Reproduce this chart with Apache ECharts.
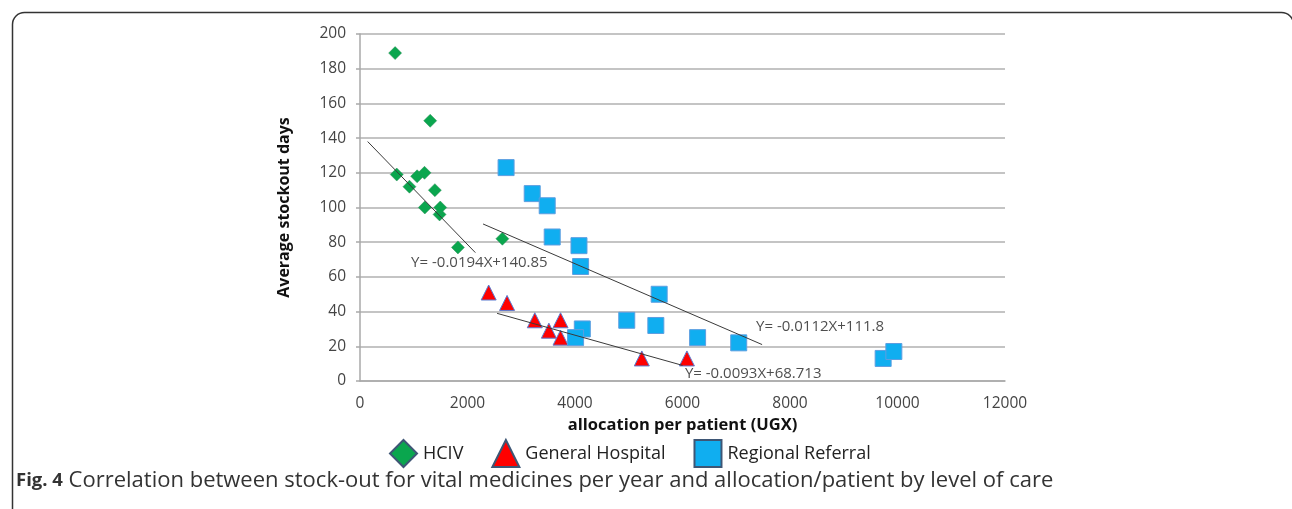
<!DOCTYPE html>
<html>
<head>
<meta charset="utf-8">
<title>Stock-out vs allocation per patient</title>
<script src="https://cdn.jsdelivr.net/npm/echarts@6.0.0/dist/echarts.min.js"></script>
<style>
  html, body { margin: 0; padding: 0; background: #fff; }
  #chart { width: 1292px; height: 509px; }
</style>
</head>
<body>
<div id="chart"></div>
<script>
// points: [allocation per patient (UGX), average stockout days]
const hcivPoints = [
  [653, 189], [684, 119], [920, 112], [1063, 118], [1200, 120], [1306, 150],
  [1206, 100], [1393, 110], [1480, 96], [1493, 100], [1822, 77], [2649, 82]
];
const generalHospitalPoints = [
  [2394, 51], [2736, 45], [3252, 35], [3731, 35], [3514, 29], [3731, 25],
  [5243, 13], [6082, 13]
];
const regionalReferralPoints = [
  [2718, 123], [3204, 108], [3483, 101], [3576, 83], [4074, 78], [4104, 66],
  [5566, 50], [4963, 35], [5504, 32], [4136, 30], [4011, 25], [6281, 25],
  [7046, 22], [9733, 13], [9932, 17]
];

// trend lines as drawn (start and end)
const hcivTrend = [[143, 138], [2146, 74]];
const generalHospitalTrend = [[2550, 39], [6001, 9]];
const regionalReferralTrend = [[2289, 90.5], [7481, 21]];

// trend equation labels and where they sit
const trendLabels = ["Y= -0.0194X+140.85", "Y= -0.0112X+111.8", "Y= -0.0093X+68.713"];
const trendLabelAnchors = [[951, 68], [7369, 31], [6045, 4]];

const seriesNames = ["HCIV", "General Hospital", "Regional Referral"];
const xTicks = { min: 0, max: 12000, step: 2000 };
const yTicks = { min: 0, max: 200, step: 20 };

const FONT = "'Open Sans', 'Liberation Sans', sans-serif";

let myChart = echarts.init(document.getElementById("chart"));

function trendSeries(data) {
  return {
    type: "line",
    data: data,
    symbol: "none",
    silent: true,
    z: 5,
    lineStyle: { color: "#3a3a3a", width: 1 },
  };
}

let options = {
  animation: false,
  backgroundColor: "#fff",
  grid: { left: 360, right: 287, top: 34, bottom: 128 },
  xAxis: {
    type: "value",
    min: xTicks.min,
    max: xTicks.max,
    interval: xTicks.step,
    name: "allocation per patient (UGX)",
    nameLocation: "middle",
    nameGap: 30,
    nameTextStyle: { fontFamily: FONT, fontWeight: "bold", fontSize: 16.5, color: "#111" },
    axisLine: { show: true, lineStyle: { color: "#a9a9a9", width: 1.5 } },
    axisTick: { show: false },
    axisLabel: {
      fontFamily: FONT, fontSize: 15.5, color: "#444", margin: 15,
      formatter: (v) => String(v),
    },
    splitLine: { show: false },
  },
  yAxis: {
    type: "value",
    min: yTicks.min,
    max: yTicks.max,
    interval: yTicks.step,
    name: "Average stockout days",
    nameLocation: "middle",
    nameGap: 68,
    nameTextStyle: { fontFamily: FONT, fontWeight: "bold", fontSize: 16, color: "#111" },
    axisLine: { show: true, lineStyle: { color: "#a9a9a9", width: 1.5 } },
    axisTick: { show: true, length: 4, lineStyle: { color: "#a9a9a9", width: 1.5 } },
    axisLabel: { fontFamily: FONT, fontSize: 15.5, color: "#444", margin: 14 },
    splitLine: { show: true, lineStyle: { color: "#b0b0b0", width: 1.5 } },
  },
  legend: {
    left: 384,
    top: 434,
    itemWidth: 27,
    itemHeight: 27,
    itemGap: 28,
    textStyle: { fontFamily: FONT, fontSize: 18, color: "#222", padding: [0, 0, 0, 1] },
    data: [
      { name: seriesNames[0], icon: "diamond",
        itemStyle: { color: "#0aa64e", borderColor: "#3e5675", borderWidth: 2 } },
      { name: seriesNames[1], icon: "triangle",
        itemStyle: { color: "#ff0000", borderColor: "#3e5675", borderWidth: 2 } },
      { name: seriesNames[2], icon: "rect",
        itemStyle: { color: "#10aef0", borderColor: "#3e5675", borderWidth: 2 } },
    ],
  },
  series: [
    {
      name: seriesNames[0],
      type: "scatter",
      symbol: "diamond",
      symbolSize: 13,
      data: hcivPoints,
      itemStyle: { color: "#0aa64e", borderColor: "#2f8e5a", borderWidth: 0.5, opacity: 1 },
    },
    {
      name: seriesNames[1],
      type: "scatter",
      symbol: "triangle",
      symbolSize: [15, 15],
      data: generalHospitalPoints,
      itemStyle: { color: "#ff0000", borderColor: "#5b7bd0", borderWidth: 1, opacity: 1 },
    },
    {
      name: seriesNames[2],
      type: "scatter",
      symbol: "rect",
      symbolSize: 16,
      data: regionalReferralPoints,
      itemStyle: { color: "#10aef0", borderColor: "#5d9ee0", borderWidth: 1, opacity: 1 },
    },
    trendSeries(hcivTrend),
    trendSeries(generalHospitalTrend),
    trendSeries(regionalReferralTrend),
    {
      type: "scatter",
      symbolSize: 0,
      silent: true,
      z: 6,
      data: trendLabelAnchors.map((p, i) => ({ value: p, label: { formatter: trendLabels[i] } })),
      label: {
        show: true,
        position: "right",
        distance: 0,
        fontFamily: FONT,
        fontSize: 15,
        color: "#222",
      },
    },
  ],
  graphic: [
    {
      type: "rect",
      left: 10,
      top: 10,
      shape: { width: 1281, height: 540, r: 12 },
      style: { fill: null, stroke: "#333", lineWidth: 1.5 },
      silent: true,
    },
    {
      type: "text",
      left: 16,
      top: 470,
      style: {
        text: "{b|Fig. 4} Correlation between stock-out for vital medicines per year and allocation/patient by level of care",
        fontFamily: FONT,
        fontSize: 22,
        fill: "#333",
        rich: {
          b: { fontFamily: FONT, fontSize: 18.5, fontWeight: "bold", fill: "#333" },
        },
      },
    },
  ],
};

myChart.setOption(options);
</script>
</body>
</html>
